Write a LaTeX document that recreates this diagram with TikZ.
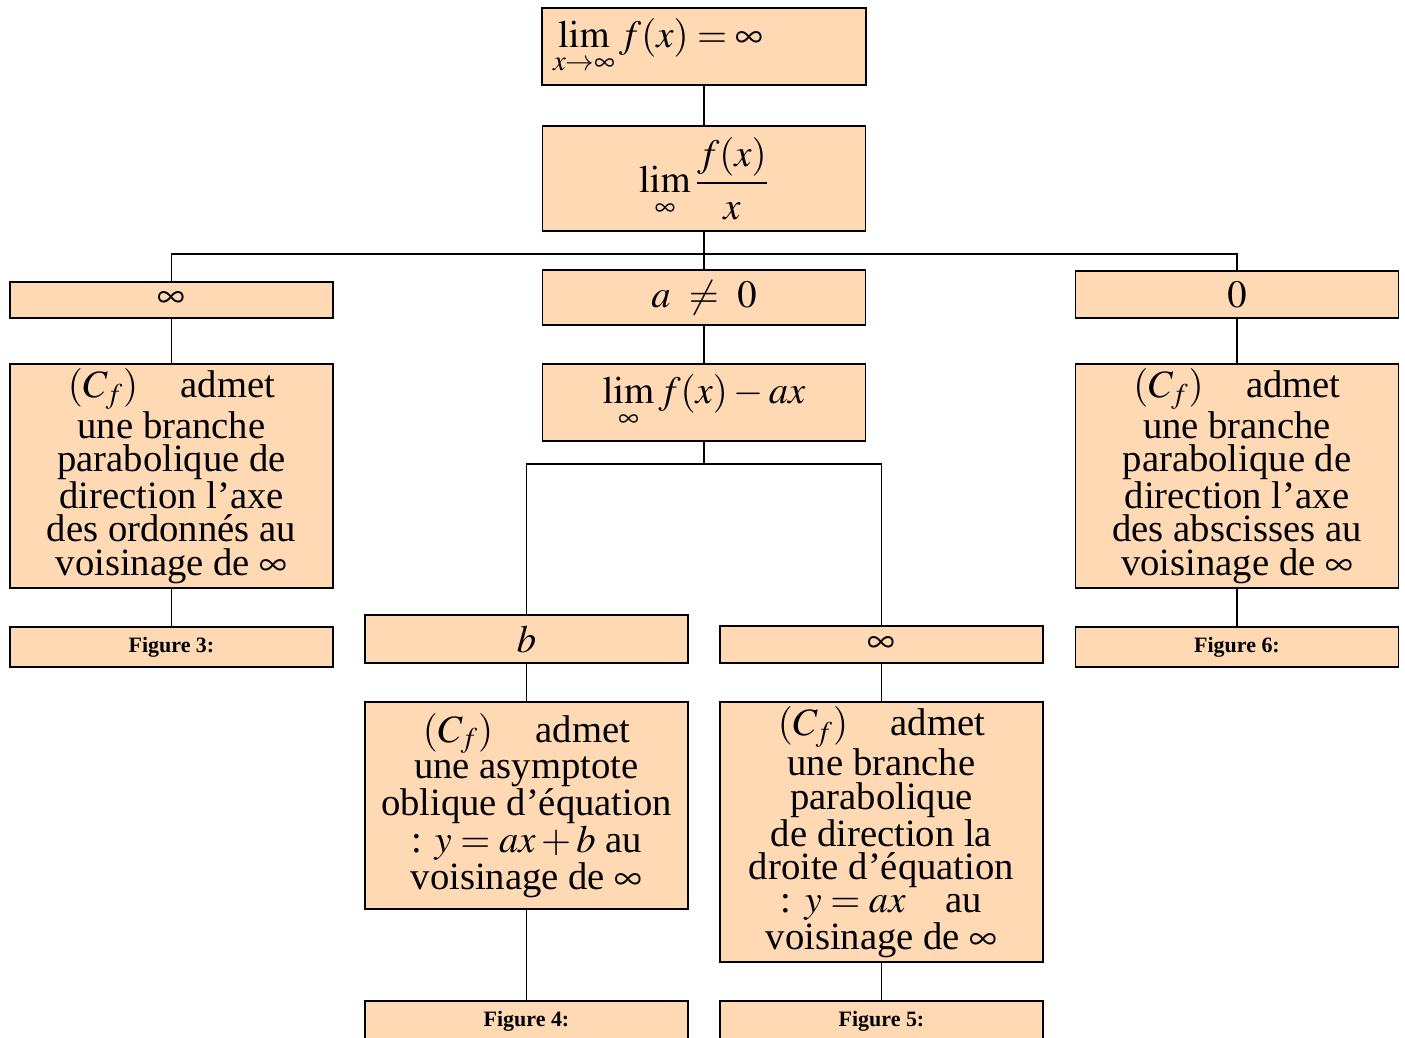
\documentclass[tikz,border=0pt]{standalone}
\usepackage{amsmath,amssymb}
\usepackage{mathptmx}
\usepackage{fontspec}
\setmainfont{Liberation Serif}
\usetikzlibrary{positioning}
\definecolor{peach}{RGB}{254,217,180}
\def \tu {0.02cm}
\tikzstyle{cell} = [draw,line width=0.6pt,rectangle,fill=peach,inner sep=0,minimum width=323*\tu,align=center,font=\fontsize{22}{19}\selectfont]
\tikzstyle{figcell} = [cell,minimum height=40*\tu,font=\fontsize{12.5}{14}\selectfont\bfseries]
\tikzstyle{link} = [-,line width=0.6pt]

\begin{document}
\begin{tikzpicture}[x=\tu,y=-\tu]
      \useasboundingbox (0,0) rectangle (1405,1037);
      % top of the tree
      \node[cell,minimum height=77*\tu,text width=302*\tu,inner xsep=11*\tu,align=left] (lim1) at (704,46.5) {$\lim\limits_{x\to\infty} f(x)=\infty$};
      \node[cell,minimum height=105*\tu] (lim2) at (704,178.5) {$\displaystyle\lim_{\infty}\frac{f(x)}{x}$};
      \coordinate (s1) at (704,254);
      \node[cell,minimum height=36*\tu] (inf1) at (171.5,300) {$\infty$};
      \node[cell,minimum height=55*\tu] (aneq) at (704,297.5) {$a\ \neq\ 0$};
      \node[cell,minimum height=47*\tu] (zero) at (1237,294.5) {$0$};
      % left branch
      \node[cell,minimum height=224*\tu] (ordo) at (171.5,476) {$(C_f)$\hspace{0.85cm}admet\\une branche\\parabolique de\\direction l'axe\\des ordonnés au\\voisinage de $\infty$};
      \node[figcell] (fig3) at (171.5,647) {Figure 3:};
      % right branch
      \node[cell,minimum height=224*\tu] (absc) at (1237,476) {$(C_f)$\hspace{0.85cm}admet\\une branche\\parabolique de\\direction l'axe\\des abscisses au\\voisinage de $\infty$};
      \node[figcell] (fig6) at (1237,647) {Figure 6:};
      % middle branch
      \node[cell,minimum height=77*\tu] (limax) at (704,402.5) {$\lim\limits_{\infty} f(x)-ax$};
      \coordinate (s2) at (704,464);
      \node[cell,minimum height=48*\tu] (bval) at (526.5,639) {$b$};
      \node[cell,minimum height=37*\tu] (inf2) at (881.5,644.5) {$\infty$};
      \node[cell,minimum height=207*\tu,font=\fontsize{22}{21}\selectfont] (asym) at (526.5,805.5) {$(C_f)$\hspace{0.85cm}admet\\une asymptote\\oblique d'équation\\: $y=ax+b$ au\\voisinage de $\infty$};
      \node[cell,minimum height=260*\tu] (dir) at (881.5,832) {$(C_f)$\hspace{0.85cm}admet\\une branche\\parabolique\\de direction la\\droite d'équation\\: $y=ax$\hspace{0.8cm}au\\voisinage de $\infty$};
      \node[figcell] (fig4) at (526.5,1021) {Figure 4:};
      \node[figcell] (fig5) at (881.5,1021) {Figure 5:};
      % connectors
      \draw[link] (lim1) -- (lim2);
      \draw[link] (lim2) -- (s1) -- (aneq);
      \draw[link] (s1) -| (inf1.north);
      \draw[link] (s1) -| (zero.north);
      \draw[link] (inf1) -- (ordo);
      \draw[link] (ordo) -- (fig3);
      \draw[link] (zero) -- (absc);
      \draw[link] (absc) -- (fig6);
      \draw[link] (aneq) -- (limax);
      \draw[link] (limax) -- (s2);
      \draw[link] (s2) -| (bval.north);
      \draw[link] (s2) -| (inf2.north);
      \draw[link] (bval) -- (asym);
      \draw[link] (asym) -- (fig4);
      \draw[link] (inf2) -- (dir);
      \draw[link] (dir) -- (fig5);
    \end{tikzpicture}
\end{document}
